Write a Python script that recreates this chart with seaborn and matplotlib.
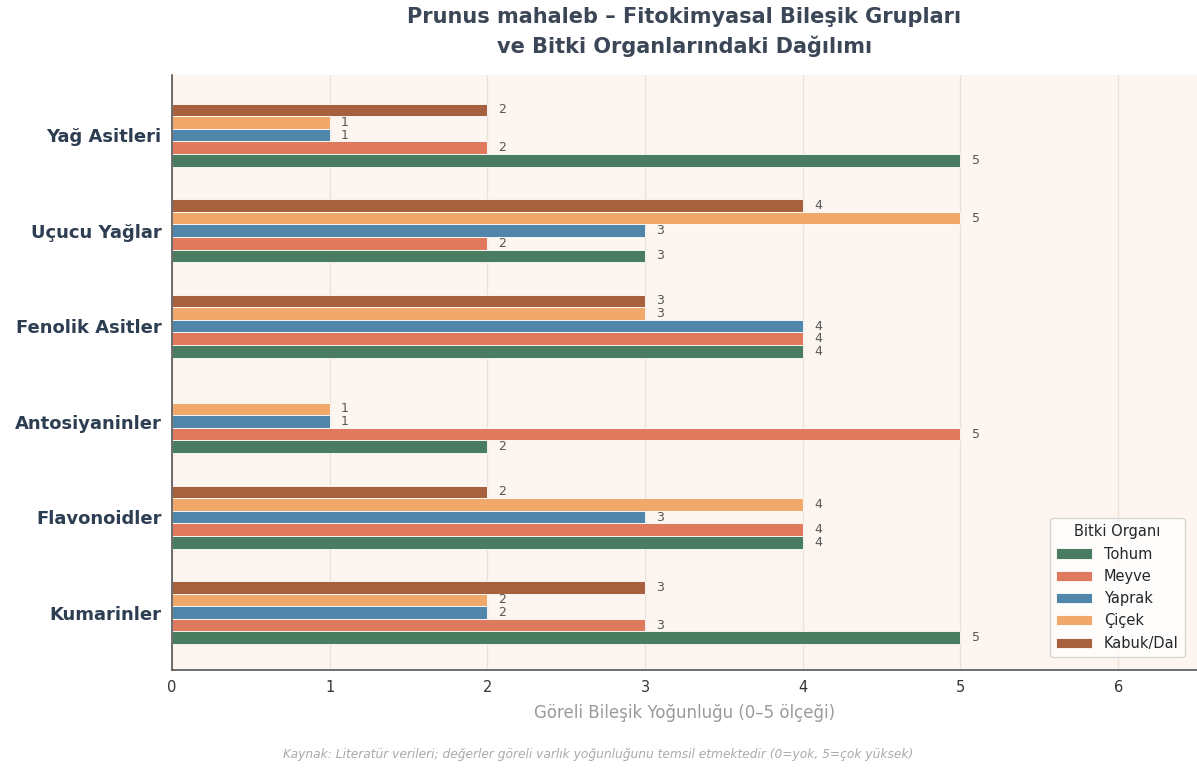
import pandas as pd
import matplotlib
matplotlib.use("Agg")
import matplotlib.pyplot as plt
import seaborn as sns

# ---- data ----
groups = ["Yağ Asitleri", "Uçucu Yağlar", "Fenolik Asitler",
          "Antosiyaninler", "Flavonoidler", "Kumarinler"]
organs = ["Tohum", "Meyve", "Yaprak", "Çiçek", "Kabuk/Dal"]

tohum = [5, 3, 4, 2, 4, 5]
meyve = [2, 2, 4, 5, 4, 3]
yaprak = [1, 3, 4, 1, 3, 2]
cicek = [1, 5, 3, 1, 4, 2]
kabuk = [2, 4, 3, 0, 2, 3]

colors = {"Tohum": "#4a7c62", "Meyve": "#e07a5f", "Yaprak": "#4f86a9",
          "Çiçek": "#f0a96b", "Kabuk/Dal": "#a8613f"}

rows = []
for org, vals in zip(organs, [tohum, meyve, yaprak, cicek, kabuk]):
    for g, v in zip(groups, vals):
        rows.append({"Grup": g, "Organ": org, "Deger": v})
df = pd.DataFrame(rows)

sns.set_style("white")
plt.rcParams["font.family"] = ["DejaVu Sans"]

fig = plt.figure(figsize=(11.97, 7.69), dpi=100)
ax = fig.add_axes([0.1437, 0.129, 0.8563, 0.7735])
ax.set_facecolor("#fdf6f0")

# seaborn draws the first hue level on top, so reverse the order
hue_order = organs[::-1]
sns.barplot(data=df, y="Grup", x="Deger", hue="Organ", order=groups,
            hue_order=hue_order, palette=colors, orient="h", width=0.66,
            saturation=1, edgecolor="white", linewidth=0.6, ax=ax, legend=True)

for cont, org in zip(ax.containers, hue_order):
    labels = [str(int(b.get_width())) if b.get_width() > 0 else "" for b in cont]
    ax.bar_label(cont, labels=labels, padding=8, fontsize=9, color="#555555")

ax.set_xlim(0, 6.5)
ax.set_ylim(5.6, -0.63)
ax.set_xticks(range(0, 7))
ax.tick_params(axis="x", labelsize=10.5, colors="#333333", length=4)
ax.tick_params(axis="y", length=4, color="#555555")
for lbl in ax.get_yticklabels():
    lbl.set_fontsize(13)
    lbl.set_fontweight("bold")
    lbl.set_color("#2e3e52")

ax.xaxis.grid(True, linestyle="-", color="#e9e2da", linewidth=1.0)
ax.set_axisbelow(True)
sns.despine(ax=ax, top=True, right=True)
for s in ["left", "bottom"]:
    ax.spines[s].set_color("#555555")
    ax.spines[s].set_linewidth(1.2)

ax.set_ylabel("")
ax.set_xlabel("Göreli Bileşik Yoğunluğu (0–5 ölçeği)", fontsize=12,
              color="#9a9a9a", labelpad=6)

ax.set_title("Prunus mahaleb – Fitokimyasal Bileşik Grupları\n"
             "ve Bitki Organlarındaki Dağılımı", fontsize=15, fontweight="bold",
             color="#3b4656", pad=16, linespacing=1.45)

handles, labels = ax.get_legend_handles_labels()
ax.legend(handles[::-1], labels[::-1], title="Bitki Organı", loc="lower right",
          fontsize=10.5, title_fontsize=10.5, frameon=True, facecolor="white",
          edgecolor="#cccccc", bbox_to_anchor=(0.995, 0.01), handlelength=2.5)

fig.text(0.5, 0.014, "Kaynak: Literatür verileri; değerler göreli varlık yoğunluğunu "
         "temsil etmektedir (0=yok, 5=çok yüksek)", ha="center", fontsize=8.8,
         style="italic", color="#aaaaaa")

fig.savefig("out.png", dpi=100, facecolor="white")
